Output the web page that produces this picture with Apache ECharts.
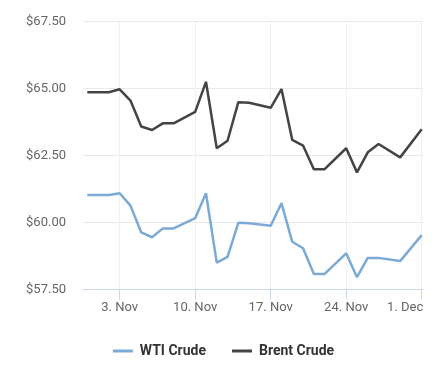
<!DOCTYPE html>
<html>
<head>
<meta charset="utf-8">
<script src="https://cdn.jsdelivr.net/npm/echarts@6/dist/echarts.min.js"></script>
<style>
html,body{margin:0;padding:0;background:#fff;}
#chart{width:447px;height:367px;}
</style>
</head>
<body>
<div id="chart"></div>
<script>
const dates = ['2025-10-31','2025-11-02','2025-11-03','2025-11-04','2025-11-05','2025-11-06','2025-11-07','2025-11-08',
  '2025-11-10','2025-11-11','2025-11-12','2025-11-13','2025-11-14','2025-11-15','2025-11-17','2025-11-18','2025-11-19',
  '2025-11-20','2025-11-21','2025-11-22','2025-11-24','2025-11-25','2025-11-26','2025-11-27','2025-11-29','2025-12-01'];
const wti = [61.03,61.03,61.09,60.63,59.63,59.45,59.78,59.78,
  60.16,61.09,58.50,58.72,59.99,59.97,59.88,60.72,59.28,
  59.04,58.08,58.08,58.85,57.96,58.68,58.68,58.56,59.53];
const brent = [64.86,64.86,64.97,64.55,63.58,63.45,63.70,63.70,
  64.13,65.25,62.77,63.05,64.49,64.47,64.28,64.98,63.08,
  62.87,61.99,61.99,62.77,61.87,62.62,62.93,62.43,63.48];
const tickDates = ['2025-11-03','2025-11-10','2025-11-17','2025-11-24','2025-12-01'];
const tickLabels = ['3. Nov','10. Nov','17. Nov','24. Nov','1. Dec'];
const yTicks = [57.5, 60, 62.5, 65, 67.5];

const origin = Date.parse(dates[0] + 'T00:00:00Z');
const dayOf = d => Math.round((Date.parse(d + 'T00:00:00Z') - origin) / 86400000);
const tickDays = tickDates.map(dayOf);
const lastTick = tickDays[tickDays.length - 1];
const labelMap = {};
tickDays.forEach((d, i) => { labelMap[d] = tickLabels[i]; });

const chart = echarts.init(document.getElementById('chart'), null, {renderer: 'canvas'});
chart.setOption({
  animation: false,
  textStyle: {fontFamily: 'Roboto, sans-serif'},
  grid: {left: 83, right: 24, top: 21.5, bottom: 77.5, containLabel: false},
  xAxis: {
    type: 'value',
    min: -0.4,
    max: 31.12,
    axisLine: {show: true, lineStyle: {color: '#ccd6eb', width: 1}},
    axisTick: {show: true, customValues: tickDays, length: 10, lineStyle: {color: '#ccd6eb'}},
    axisLabel: {
      customValues: tickDays,
      formatter: v => {
        const d = Math.round(v);
        const t = labelMap[d] || '';
        return d === lastTick ? '{e|' + t + '}' : t;
      },
      rich: {e: {color: '#666666', fontSize: 13, padding: [0, 33, 0, 0], fontFamily: 'Roboto, sans-serif'}},
      color: '#666666', fontSize: 13, margin: 12
    },
    splitLine: {show: true, lineStyle: {color: '#f0f0f0', width: 1}}
  },
  yAxis: {
    type: 'value',
    min: yTicks[0],
    max: yTicks[yTicks.length - 1],
    interval: 2.5,
    axisLine: {show: false},
    axisTick: {show: false},
    axisLabel: {formatter: v => '$' + v.toFixed(2), color: '#666666', fontSize: 13, margin: 17},
    splitLine: {show: true, lineStyle: {color: '#e9e9e9', width: 1}}
  },
  legend: {
    top: 339,
    left: 'center',
    icon: 'rect',
    itemWidth: 20,
    itemHeight: 3,
    itemGap: 26,
    textStyle: {fontSize: 14, fontWeight: 'bold', color: '#333333', fontFamily: 'Roboto, sans-serif', padding: [0, 0, 0, 2]},
    data: ['WTI Crude', 'Brent Crude']
  },
  series: [
    {
      name: 'WTI Crude', type: 'line', symbol: 'none', showSymbol: false,
      lineStyle: {color: '#7caad6', width: 2.5}, itemStyle: {color: '#7caad6'},
      data: dates.map((d, i) => [dayOf(d), wti[i]])
    },
    {
      name: 'Brent Crude', type: 'line', symbol: 'none', showSymbol: false,
      lineStyle: {color: '#434348', width: 2.5}, itemStyle: {color: '#434348'},
      data: dates.map((d, i) => [dayOf(d), brent[i]])
    }
  ]
});
</script>
</body>
</html>
